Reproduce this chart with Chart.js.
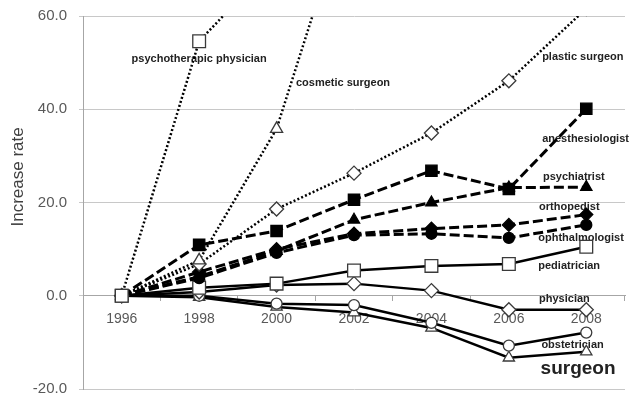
<!DOCTYPE html>
<html>
<head>
<meta charset="utf-8">
<title>Increase rate by specialty</title>
<script src="https://cdn.jsdelivr.net/npm/chart.js@4.4.1/dist/chart.umd.min.js"></script>
<style>
  html, body { margin: 0; padding: 0; background: #fff; }
</style>
</head>
<body>
<canvas id="rateChart" width="630" height="397"></canvas>
<script>
// Categories and axis ticks
var years = ["1996", "1998", "2000", "2002", "2004", "2006", "2008"];
var yTicks = [-20, 0, 20, 40, 60];

// Increase rate per specialty (null = off the chart)
var psychotherapic = [0, 54.6, 72, null, null, null, null];
var cosmetic = [0, 7.6, 35.8, 88, null, null, null];
var plastic = [0, 6.8, 18.6, 26.3, 34.9, 46.1, 61.6];
var anesthesiologist = [0, 10.9, 13.9, 20.6, 26.8, 22.9, 40.1];
var psychiatrist = [0, 4.1, 9.6, 16.3, 20.0, 23.2, 23.3];
var orthopedist = [0, 5.1, 10.0, 13.3, 14.4, 15.2, 17.4];
var ophthalmologist = [0, 3.8, 9.2, 13.0, 13.3, 12.4, 15.2];
var pediatrician = [0, 1.7, 2.6, 5.4, 6.4, 6.8, 10.5];
var physician = [0, 0.8, 2.3, 2.6, 1.1, -3.0, -3.0];
var obstetrician = [0, 0, -1.7, -2.0, -5.8, -10.7, -7.9];
var surgeon = [0, -0.3, -2.4, -3.6, -6.9, -13.3, -12.0];

// Line looks
var lineStyles = {
  dot: { width: 2.5, dash: [2, 2.2] },
  dash: { width: 3, dash: [10, 4] },
  solid: { width: 2.5, dash: [] },
};

function series(label, data, line, shape, radius, filled) {
  return {
    label: label,
    data: data,
    borderColor: "#000",
    borderWidth: lineStyles[line].width,
    borderDash: lineStyles[line].dash,
    tension: 0,
    clip: 0,
    pointStyle: shape,
    pointRadius: radius,
    pointHoverRadius: radius,
    pointBackgroundColor: filled ? "#000" : "#fff",
    pointBorderColor: filled ? "#000" : "#3a3a3a",
    pointBorderWidth: 1.3,
  };
}

// Text labels next to the lines, placed in data units
var notes = [
  { text: "psychotherapic physician", x: 1.0, y: 50.8, align: "center" },
  { text: "cosmetic surgeon", x: 2.25, y: 45.6 },
  { text: "plastic surgeon", x: 5.43, y: 51.2 },
  { text: "anesthesiologist", x: 5.43, y: 33.6 },
  { text: "psychiatrist", x: 5.44, y: 25.5 },
  { text: "orthopedist", x: 5.39, y: 19.1 },
  { text: "ophthalmologist", x: 5.38, y: 12.4 },
  { text: "pediatrician", x: 5.38, y: 6.4 },
  { text: "physician", x: 5.39, y: -0.6 },
  { text: "obstetrician", x: 5.42, y: -10.5 },
  { text: "surgeon", x: 5.41, y: -15.6, big: true },
];

var notesPlugin = {
  id: "notes",
  beforeDatasetsDraw: function (chart) {
    var ctx = chart.ctx;
    var xs = chart.scales.x;
    var ys = chart.scales.y;
    ctx.save();
    ctx.fillStyle = "#222";
    ctx.textBaseline = "middle";
    notes.forEach(function (n) {
      ctx.font = n.big ? "bold 19px 'Liberation Sans'" : "bold 11px 'Liberation Sans'";
      ctx.textAlign = n.align || "left";
      ctx.fillText(n.text, xs.getPixelForValue(n.x), ys.getPixelForValue(n.y));
    });
    // y axis title
    ctx.translate(18, ys.getPixelForValue(25.5));
    ctx.rotate(-Math.PI / 2);
    ctx.textAlign = "center";
    ctx.fillStyle = "#404040";
    ctx.font = "17px 'Liberation Sans'";
    ctx.fillText("Increase rate", 0, 0);
    ctx.restore();
  },
};

function rateChart() {
  new Chart(document.getElementById("rateChart"), {
    type: "line",
    data: {
      labels: years,
      datasets: [
        series("psychotherapic physician", psychotherapic, "dot", "rect", 9, false),
        series("cosmetic surgeon", cosmetic, "dot", "triangle", 7, false),
        series("plastic surgeon", plastic, "dot", "rectRot", 7, false),
        series("anesthesiologist", anesthesiologist, "dash", "rect", 8, true),
        series("psychiatrist", psychiatrist, "dash", "triangle", 6.5, true),
        series("orthopedist", orthopedist, "dash", "rectRot", 6.5, true),
        series("ophthalmologist", ophthalmologist, "dash", "circle", 5.5, true),
        series("pediatrician", pediatrician, "solid", "rect", 9, false),
        series("physician", physician, "solid", "rectRot", 7, false),
        series("obstetrician", obstetrician, "solid", "circle", 5.5, false),
        series("surgeon", surgeon, "solid", "triangle", 6.5, false),
      ],
    },
    options: {
      responsive: false,
      animation: false,
      events: [],
      layout: { autoPadding: false, padding: { top: 16, right: 5, bottom: 8, left: 0 } },
      plugins: {
        legend: { display: false },
        tooltip: { enabled: false },
      },
      scales: {
        x: {
          position: { y: 0 },
          offset: true,
          grid: { offset: true, drawOnChartArea: false, tickLength: 5, color: "#a6a6a6" },
          border: { color: "#a6a6a6", width: 1 },
          ticks: {
            color: "#595959",
            padding: 10,
            maxRotation: 0,
            font: { size: 14, family: "'Liberation Sans'" },
          },
          afterFit: function (s) {
            s.height = 0;
          },
        },
        y: {
          min: -20,
          max: 60,
          grid: { color: "#c8c8c8", tickLength: 4 },
          border: { color: "#a6a6a6", width: 1 },
          ticks: {
            color: "#595959",
            padding: 12,
            font: { size: 15, family: "'Liberation Sans'" },
            callback: function (v) {
              return Number(v).toFixed(1);
            },
          },
          afterBuildTicks: function (s) {
            s.ticks = yTicks.map(function (v) {
              return { value: v };
            });
          },
          afterFit: function (s) {
            s.width = 83;
            s.paddingTop = 0;
            s.paddingBottom = 0;
          },
        },
      },
    },
    plugins: [notesPlugin],
  });
}

document.addEventListener("DOMContentLoaded", function () {
  rateChart();
});
</script>
</body>
</html>
